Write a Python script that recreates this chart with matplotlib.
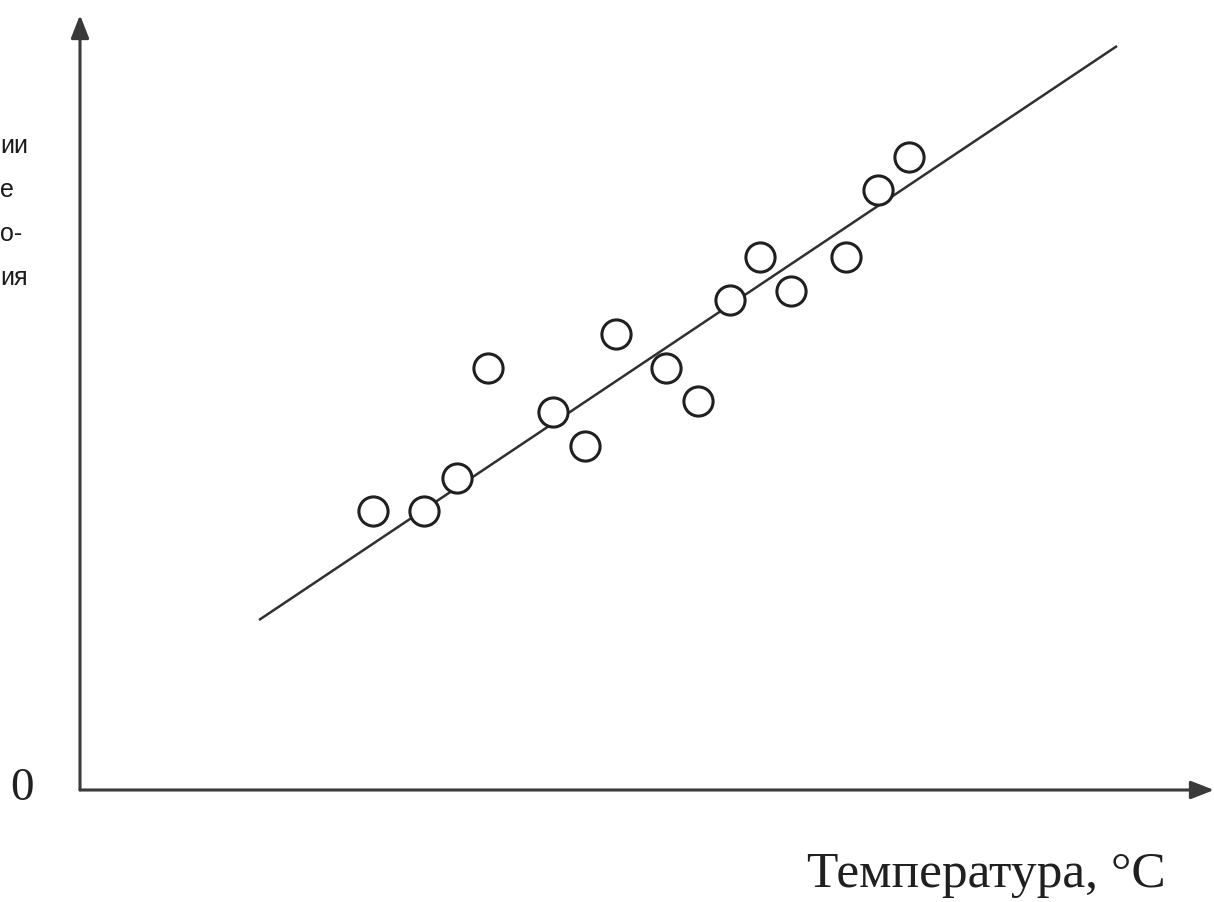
"""Scatter of measurements vs temperature with a linear trend line."""

import matplotlib.pyplot as plt

# measured points (arbitrary units, origin at axes corner)
temp = [29.3, 34.4, 37.7, 40.8, 47.3, 50.5, 53.6, 58.6, 61.8, 65.0, 68.0, 71.1, 76.6, 79.8, 82.9]
value = [27.9, 27.9, 31.2, 42.2, 37.8, 34.4, 45.6, 42.2, 38.9, 49.0, 53.3, 49.9, 53.3, 60.0, 63.3]

# trend line end points
line_x = [17.9, 103.7]
line_y = [17.0, 74.4]

# cropped fragments of the y-axis caption
ylabel_parts = ["ии", "е", "о-", "ия"]

W, H = 1214, 902
fig = plt.figure(figsize=(W / 100, H / 100), dpi=100)
ax = fig.add_axes([80 / W, 112 / H, 1134 / W, 775 / H])
ax.set_xlim(0, 113.4)
ax.set_ylim(0, 77.5)
ax.axis("off")

ax.plot(line_x, line_y, color="#303030", linewidth=1.8, solid_capstyle="butt")
ax.plot(temp, value, linestyle="none", marker="o", markersize=21,
        markerfacecolor="white", markeredgecolor="#202020", markeredgewidth=2.2)

axis_col = "#3a3a3a"
arrow = dict(arrowstyle="-|>,head_length=1.4,head_width=0.55", color=axis_col,
             linewidth=2.2, shrinkA=0, shrinkB=0)
ax.annotate("", xy=(0, 1), xytext=(0, 0), xycoords="axes fraction",
            textcoords="axes fraction", arrowprops=arrow, annotation_clip=False)
ax.annotate("", xy=(1, 0), xytext=(0, 0), xycoords="axes fraction",
            textcoords="axes fraction", arrowprops=arrow, annotation_clip=False)

fig.text(22 / W, 1 - 800 / H, "0", ha="center", va="baseline",
         fontsize=34, family="Liberation Serif", color="#202020")
fig.text(1166 / W, 1 - 887 / H, "Температура, °C", ha="right", va="baseline",
         fontsize=37, family="Liberation Serif", color="#202020")

for i, part in enumerate(ylabel_parts):
    fig.text(0, 1 - (153 + i * 44) / H, part, ha="left", va="baseline",
             fontsize=18, family="Liberation Sans", color="#1a1a1a")

fig.savefig("out.png", dpi=100)
